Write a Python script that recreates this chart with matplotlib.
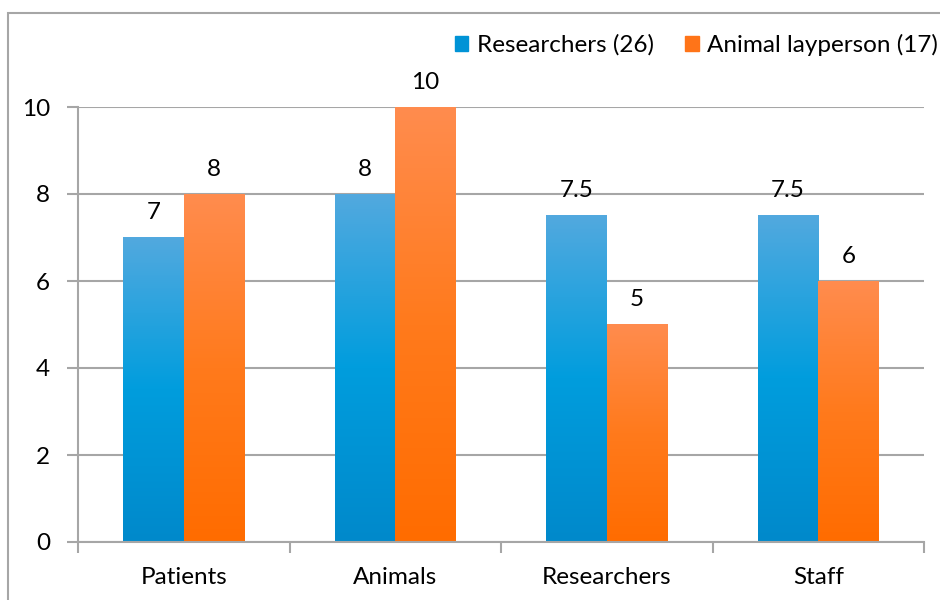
import matplotlib.pyplot as plt
import numpy as np
from matplotlib.colors import LinearSegmentedColormap
from matplotlib.patches import Rectangle

categories = ["Patients", "Animals", "Researchers", "Staff"]
researchers = [7, 8, 7.5, 7.5]
layperson = [8, 10, 5, 6]
series_names = ["Researchers (26)", "Animal layperson (17)"]
labels_r = ["7", "8", "7.5", "7.5"]
labels_l = ["8", "10", "5", "6"]

plt.rcParams['font.family'] = ['Lato', 'DejaVu Sans']

# gradient stops: bottom -> mid -> top
blue_cm = LinearSegmentedColormap.from_list("b", [(0, "#0089cb"), (0.5, "#009ddd"), (1, "#52a9df")])
orange_cm = LinearSegmentedColormap.from_list("o", [(0, "#ff6c00"), (0.5, "#ff7a1c"), (1, "#ff8c4e")])

fig = plt.figure(figsize=(9.4, 6), dpi=100)
ax = fig.add_axes([78/940, 58/600, 846/940, 435/600])

x = np.arange(len(categories))
w = 0.286
bars_r = ax.bar(x - w/2, researchers, w, facecolor="none", edgecolor="none")
bars_l = ax.bar(x + w/2, layperson, w, facecolor="none", edgecolor="none")

grad = np.linspace(0, 1, 256).reshape(-1, 1)
for bars, cm, labs in [(bars_r, blue_cm, labels_r), (bars_l, orange_cm, labels_l)]:
    for rect, lab in zip(bars, labs):
        x0, y0 = rect.get_x(), rect.get_y()
        bw, bh = rect.get_width(), rect.get_height()
        ax.imshow(grad, cmap=cm, origin="lower", aspect="auto",
                  extent=[x0, x0 + bw, y0, y0 + bh], zorder=2)
        ax.text(x0 + bw/2, bh + 0.33, lab, ha="center", va="bottom", fontsize=17.5)

ax.set_xlim(-0.5, 3.5)
ax.set_ylim(0, 10)
ax.set_yticks([0, 2, 4, 6, 8, 10])
ax.yaxis.grid(True, color="#a6a6a6", linewidth=1.5)
ax.set_axisbelow(True)
ax.set_xticks(x)
ax.set_xticklabels(categories, fontsize=17.5)
ax.set_xticks(np.arange(-0.5, 4, 1), minor=True)
ax.tick_params(axis="x", which="major", length=0, pad=18)
ax.tick_params(axis="x", which="minor", length=8, color="#a6a6a6", width=1.5)
ax.tick_params(axis="y", length=8, color="#a6a6a6", width=1.5, labelsize=17.5, pad=12)
for s in ["top", "right"]:
    ax.spines[s].set_visible(False)
for s in ["left", "bottom"]:
    ax.spines[s].set_color("#a6a6a6")
    ax.spines[s].set_linewidth(1.5)

handles = [Rectangle((0, 0), 1, 1, color="#0093d6"), Rectangle((0, 0), 1, 1, color="#ff7418")]
fig.legend(handles, series_names, loc="center right", bbox_to_anchor=(938/940, 1 - 45/600),
           ncol=2, frameon=False, fontsize=17.5, handlelength=0.55, handleheight=0.55,
           handletextpad=0.35, columnspacing=1.3, borderaxespad=0, borderpad=0)

fig.patches.append(Rectangle((8/940, -0.1), 1.2, 1.1 - 13/600, transform=fig.transFigure,
                             fill=False, edgecolor="#a6a6a6", linewidth=1.5))

fig.savefig("out.png", dpi=100)
